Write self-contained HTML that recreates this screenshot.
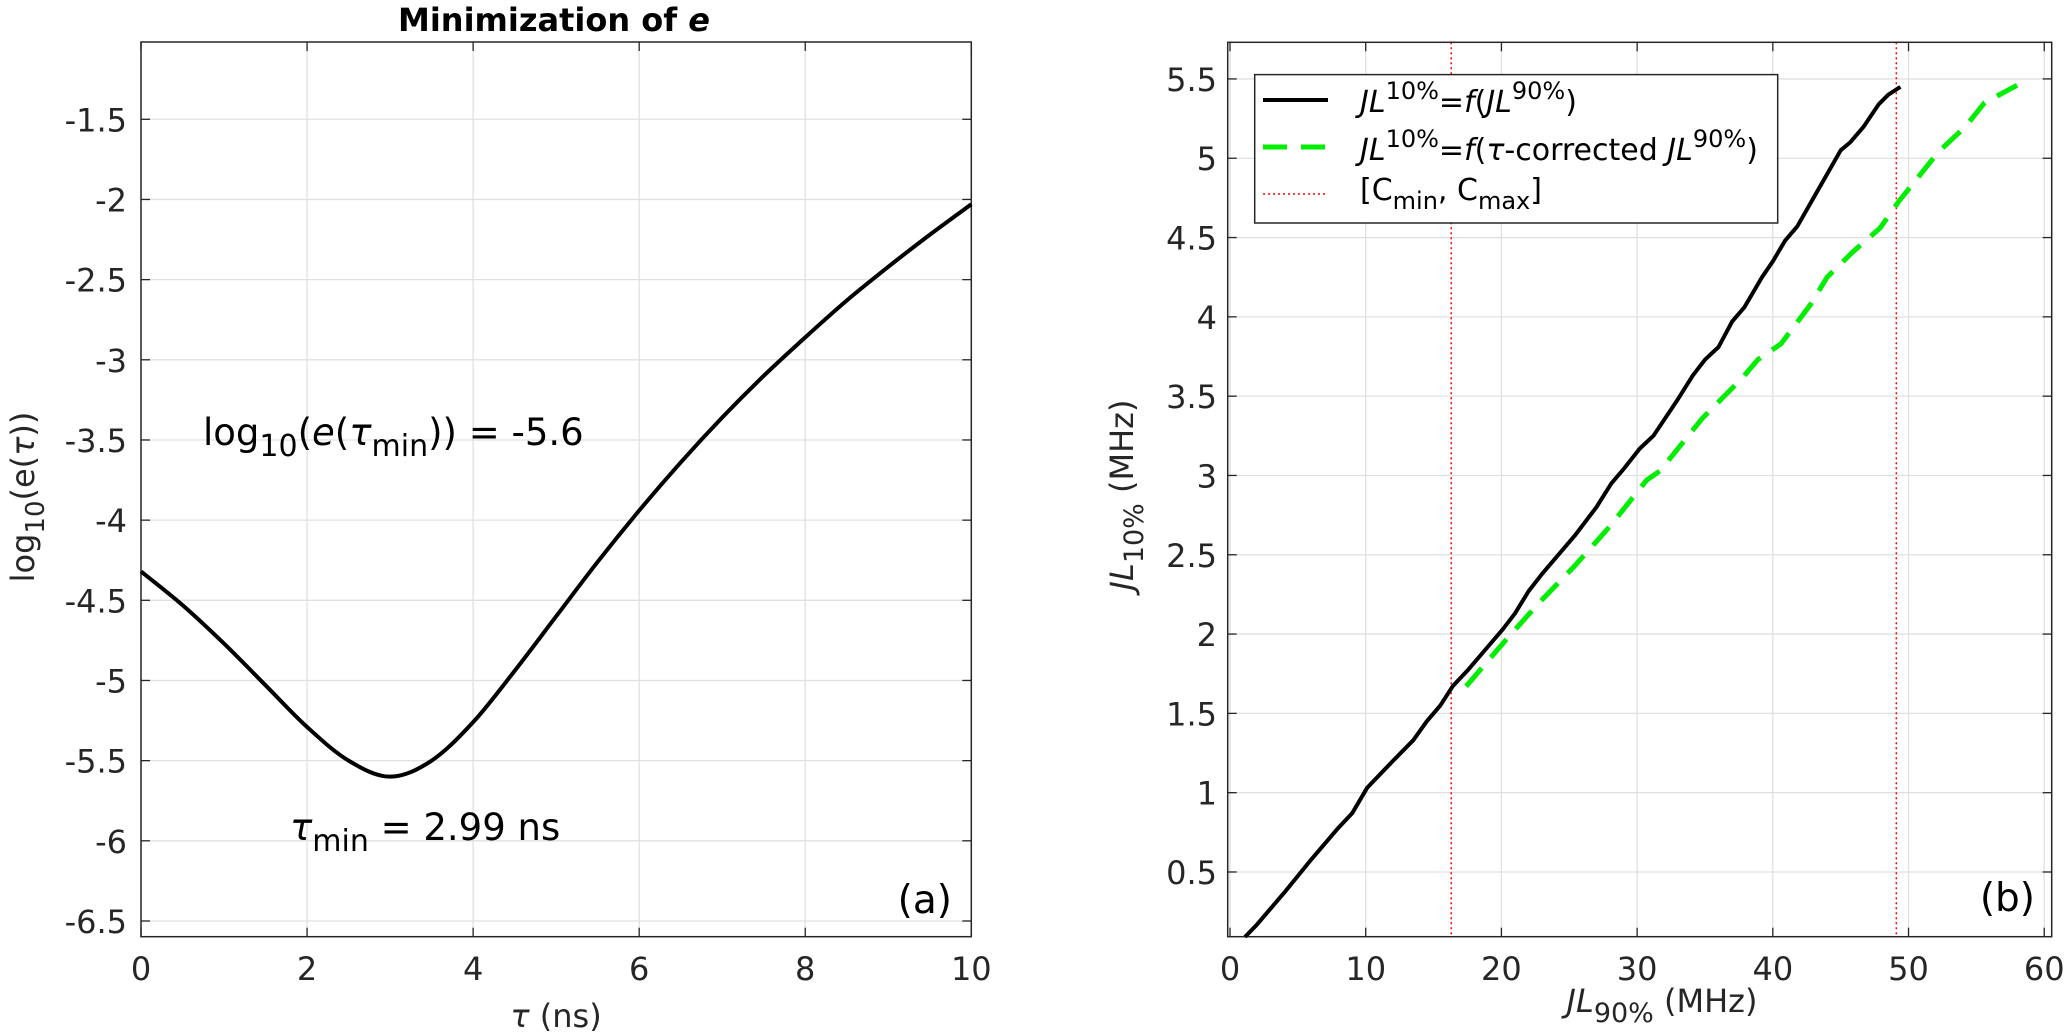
<!DOCTYPE html>
<html><head><meta charset="utf-8">
<style>
html,body{margin:0;padding:0;background:#fff;}
svg{display:block;font-family:"DejaVu Sans","Liberation Sans",sans-serif;}
</style></head>
<body>
<svg id="chart" width="2066" height="1035" viewBox="0 0 2066 1035" xmlns="http://www.w3.org/2000/svg">
<g id="pa"></g>
<g id="pb"></g>
</svg>
<script>
// Panel (a) data
const aTau = [0,0.5,1,1.5,2,2.5,3,3.5,4,4.5,5,5.5,6,6.5,7,7.5,8,8.5,9,9.5,10];
const aLogE = [-4.32,-4.53,-4.77,-5.03,-5.29,-5.5,-5.6,-5.5,-5.26,-4.94,-4.6,-4.26,-3.94,-3.64,-3.36,-3.1,-2.86,-2.63,-2.42,-2.22,-2.03];
const aXTicks = [0,2,4,6,8,10];
const aYTicks = [-6.5,-6,-5.5,-5,-4.5,-4,-3.5,-3,-2.5,-2,-1.5];
// Panel (b) data
const bBlackX = [1.1,2,4,6,8,9,10.1,12,13.5,14.5,15.5,16.4,17.5,19,20.1,21,22,23,24.7,25.4,27,28.1,29,30.2,31.2,33,34.1,35,36,37,37.9,39.2,40,40.9,41.8,43,44,45,45.7,46.7,47.8,48.5,49.4];
const bBlackY = [0.09,0.17,0.37,0.58,0.78,0.87,1.03,1.2,1.33,1.45,1.55,1.67,1.77,1.92,2.03,2.13,2.27,2.38,2.55,2.62,2.8,2.95,3.04,3.17,3.25,3.48,3.63,3.73,3.81,3.97,4.06,4.25,4.35,4.48,4.57,4.75,4.9,5.05,5.1,5.2,5.34,5.4,5.45];
const bGreenX = [17.4,20.3,22.7,25.4,28,30.7,31.7,34.8,37.7,38.9,40.6,42.8,44,45.9,47.9,49.3,52.2,54.2,55.6,58];
const bGreenY = [1.67,1.96,2.19,2.43,2.68,2.97,3.03,3.36,3.61,3.73,3.83,4.08,4.25,4.41,4.56,4.73,5.04,5.2,5.35,5.46];
const bCLimits = [16.3,49.1];
const bXTicks = [0,10,20,30,40,50,60];
const bYTicks = [0.5,1,1.5,2,2.5,3,3.5,4,4.5,5,5.5];

const NS="http://www.w3.org/2000/svg";
function mk(parent,tag,attrs,text){const e=document.createElementNS(NS,tag);for(const k in attrs)e.setAttribute(k,attrs[k]);if(text!==undefined)e.textContent=text;parent.appendChild(e);return e;}
function smooth(pts){let d='M'+pts[0][0]+','+pts[0][1];for(let i=0;i<pts.length-1;i++){const p0=pts[Math.max(i-1,0)],p1=pts[i],p2=pts[i+1],p3=pts[Math.min(i+2,pts.length-1)];const c1x=p1[0]+(p2[0]-p0[0])/6,c1y=p1[1]+(p2[1]-p0[1])/6,c2x=p2[0]-(p3[0]-p1[0])/6,c2y=p2[1]-(p3[1]-p1[1])/6;d+=' C'+c1x+','+c1y+' '+c2x+','+c2y+' '+p2[0]+','+p2[1];}return d;}

const pa=document.getElementById('pa');
const aL=141,aR=971.3,aT=42,aB=936.7,aX0=0,aX1=10,aY0=-6.598,aY1=-1.018;
const ax=v=>aL+(v-aX0)/(aX1-aX0)*(aR-aL);
const ay=v=>aB-(v-aY0)/(aY1-aY0)*(aB-aT);
for(const t of aXTicks){
 const g=mk(pa,'line',{x1:ax(t),x2:ax(t),y1:aT,y2:aB,stroke:'#e0e0e0','stroke-width':1.3});
 
 
 mk(pa,'line',{x1:ax(t),x2:ax(t),y1:aB,y2:aB-9,stroke:'#262626','stroke-width':1.3});
 mk(pa,'line',{x1:ax(t),x2:ax(t),y1:aT,y2:aT+9,stroke:'#262626','stroke-width':1.3});
 const l=mk(pa,'text',{x:ax(t),y:980,'text-anchor':'middle','font-size':32,fill:'#262626'},String(t));
 
 
}
for(const t of aYTicks){
 const g=mk(pa,'line',{x1:aL,x2:aR,y1:ay(t),y2:ay(t),stroke:'#e0e0e0','stroke-width':1.3});
 
 
 mk(pa,'line',{x1:aL,x2:aL+9,y1:ay(t),y2:ay(t),stroke:'#262626','stroke-width':1.3});
 mk(pa,'line',{x1:aR,x2:aR-9,y1:ay(t),y2:ay(t),stroke:'#262626','stroke-width':1.3});
 const l=mk(pa,'text',{x:127,y:ay(t)+12,'text-anchor':'end','font-size':32,fill:'#262626'},String(t));
 
 
}
const aBox=mk(pa,'rect',{x:aL,y:aT,width:aR-aL,height:aB-aT,fill:'none',stroke:'#262626','stroke-width':1.5});


const aLine=mk(pa,'path',{d:smooth(aTau.map((x,i)=>[ax(x),ay(aLogE[i])])),fill:'none',stroke:'#000','stroke-width':4,'stroke-linejoin':'round'});


</script>
<script>
(function(){
const pa=document.getElementById('pa');
pa.insertAdjacentHTML('beforeend',
 '<text x="554" y="31" text-anchor="middle" font-size="32" font-weight="bold">Minimization of <tspan font-style="italic">e</tspan></text>'+
 '<text x="556" y="1027" text-anchor="middle" font-size="32" fill="#262626"><tspan font-style="italic">τ</tspan> (ns)</text>'+
 '<text transform="translate(34,497) rotate(-90)" text-anchor="middle" font-size="32" fill="#262626">log<tspan font-size="26" dy="10">10</tspan><tspan dy="-10">(e(</tspan><tspan font-style="italic">τ</tspan>))</text>'+
 '<text x="203" y="445" font-size="37">log<tspan font-size="30" dy="11">10</tspan><tspan dy="-11">(</tspan><tspan font-style="italic">e</tspan>(<tspan font-style="italic">τ</tspan><tspan font-size="30" dy="11">min</tspan><tspan dy="-11">)) = -5.6</tspan></text>'+
 '<text x="290" y="840" font-size="37"><tspan font-style="italic">τ</tspan><tspan font-size="30" dy="11">min</tspan><tspan dy="-11"> = 2.99 ns</tspan></text>'+
 '<text x="952" y="913" text-anchor="end" font-size="39">(a)</text>');
})();
</script>
<script>
const pb=document.getElementById('pb');
const bL=1227.7,bR=2051.7,bT=42.3,bB=936.7,bX0=-0.17,bX1=60.55,bY0=0.092,bY1=5.731;
const bx=v=>bL+(v-bX0)/(bX1-bX0)*(bR-bL);
const by=v=>bB-(v-bY0)/(bY1-bY0)*(bB-bT);
for(const t of bXTicks){
 const g=mk(pb,'line',{x1:bx(t),x2:bx(t),y1:bT,y2:bB,stroke:'#e0e0e0','stroke-width':1.3});
 
 
 mk(pb,'line',{x1:bx(t),x2:bx(t),y1:bB,y2:bB-9,stroke:'#262626','stroke-width':1.3});
 mk(pb,'line',{x1:bx(t),x2:bx(t),y1:bT,y2:bT+9,stroke:'#262626','stroke-width':1.3});
 const l=mk(pb,'text',{x:bx(t),y:980,'text-anchor':'middle','font-size':32,fill:'#262626'},String(t));
 
 
}
for(const t of bYTicks){
 const g=mk(pb,'line',{x1:bL,x2:bR,y1:by(t),y2:by(t),stroke:'#e0e0e0','stroke-width':1.3});
 
 
 mk(pb,'line',{x1:bL,x2:bL+9,y1:by(t),y2:by(t),stroke:'#262626','stroke-width':1.3});
 mk(pb,'line',{x1:bR,x2:bR-9,y1:by(t),y2:by(t),stroke:'#262626','stroke-width':1.3});
 const l=mk(pb,'text',{x:1217,y:by(t)+12,'text-anchor':'end','font-size':32,fill:'#262626'},String(t));
 
 
}
for(const c of bCLimits){
 const r=mk(pb,'line',{x1:bx(c),x2:bx(c),y1:bT,y2:bB,stroke:'#ff0000','stroke-width':1.5,'stroke-dasharray':'2,3'});
 
 
}
const bBox=mk(pb,'rect',{x:bL,y:bT,width:bR-bL,height:bB-bT,fill:'none',stroke:'#262626','stroke-width':1.5});


const gL=mk(pb,'polyline',{points:bGreenX.map((x,i)=>bx(x)+','+by(bGreenY[i])).join(' '),fill:'none',stroke:'#00ee00','stroke-width':5,'stroke-dasharray':'24,14'});


const kL=mk(pb,'polyline',{points:bBlackX.map((x,i)=>bx(x)+','+by(bBlackY[i])).join(' '),fill:'none',stroke:'#000','stroke-width':4,'stroke-linejoin':'round'});


pb.insertAdjacentHTML('beforeend',
 '<g>'+
 '<rect x="1254.7" y="74.6" width="523" height="148.4" fill="#fff" stroke="#262626" stroke-width="1.5"/>'+
 '<line x1="1263" x2="1328" y1="100" y2="100" stroke="#000" stroke-width="4"/>'+
 '<line x1="1263" x2="1328" y1="147" y2="147" stroke="#00ee00" stroke-width="5" stroke-dasharray="24,14"/>'+
 '<line x1="1263" x2="1328" y1="194" y2="194" stroke="#ff0000" stroke-width="1.5" stroke-dasharray="2,3"/>'+
 '<text x="1360" y="112" font-size="30"><tspan font-style="italic">JL</tspan><tspan font-size="24" dy="-13">10%</tspan><tspan dy="13">=</tspan><tspan font-style="italic">f</tspan>(<tspan font-style="italic">JL</tspan><tspan font-size="24" dy="-13">90%</tspan><tspan dy="13">)</tspan></text>'+
 '<text x="1360" y="160" font-size="30"><tspan font-style="italic">JL</tspan><tspan font-size="24" dy="-13">10%</tspan><tspan dy="13">=</tspan><tspan font-style="italic">f</tspan>(<tspan font-style="italic">τ</tspan>-corrected <tspan font-style="italic">JL</tspan><tspan font-size="24" dy="-13">90%</tspan><tspan dy="13">)</tspan></text>'+
 '<text x="1360" y="200" font-size="30">[C<tspan font-size="24" dy="9">min</tspan><tspan dy="-9">, C</tspan><tspan font-size="24" dy="9">max</tspan><tspan dy="-9">]</tspan></text>'+
 '</g>'+
 '<text x="1662" y="1012" text-anchor="middle" font-size="32" fill="#262626"><tspan font-style="italic">JL</tspan><tspan font-size="27" dy="10">90%</tspan><tspan dy="-10"> (MHz)</tspan></text>'+
 '<text transform="translate(1133,495) rotate(-90)" text-anchor="middle" font-size="32" fill="#262626"><tspan font-style="italic">JL</tspan><tspan font-size="27" dy="10">10%</tspan><tspan dy="-10"> (MHz)</tspan></text>'+
 '<text x="2035" y="911" text-anchor="end" font-size="39">(b)</text>');
</script>
</body></html>
